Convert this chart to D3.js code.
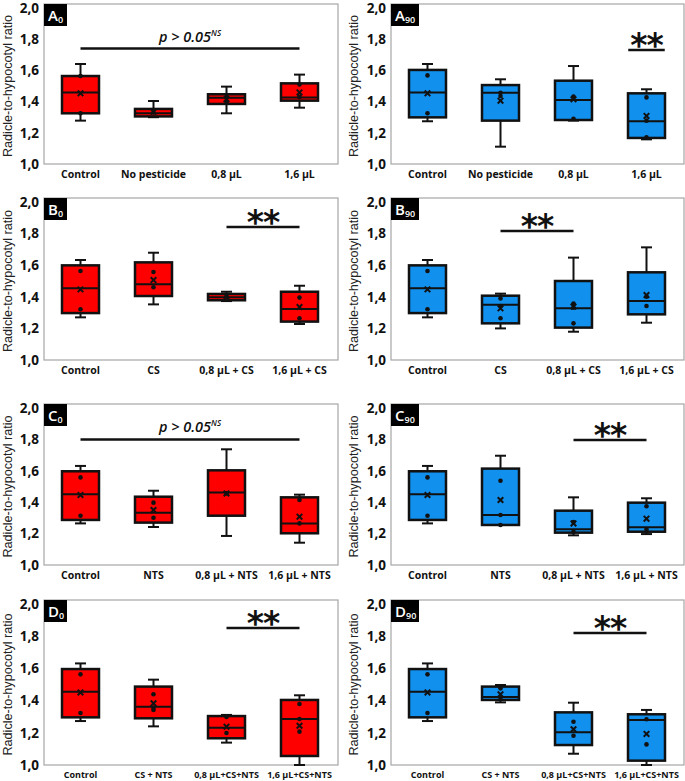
<!DOCTYPE html>
<html>
<head>
<meta charset="utf-8">
<script src="https://cdn.jsdelivr.net/npm/d3@7"></script>
<style>
  body { margin: 0; background: #fff; }
  svg { display: block; }
</style>
</head>
<body>
<div id="chart"></div>
<script>
// category labels per row
const catsA = ["Control", "No pesticide", "0,8 µL", "1,6 µL"];
const catsB = ["Control", "CS", "0,8 µL + CS", "1,6 µL + CS"];
const catsC = ["Control", "NTS", "0,8 µL + NTS", "1,6 µL + NTS"];
const catsD = ["Control", "CS + NTS", "0,8 µL+CS+NTS", "1,6 µL+CS+NTS"];
const yTicks = [1.0, 1.2, 1.4, 1.6, 1.8, 2.0];

// box stats: [min, q1, median, q3, max, mean]
const boxA0 = [[1.278, 1.325, 1.459, 1.564, 1.641, 1.453], [1.300, 1.305, 1.325, 1.353, 1.404, 1.335], [1.325, 1.385, 1.425, 1.447, 1.496, 1.415], [1.361, 1.406, 1.427, 1.517, 1.573, 1.459]];
const boxA90 = [[1.274, 1.299, 1.459, 1.603, 1.641, 1.453], [1.111, 1.278, 1.457, 1.506, 1.543, 1.406], [1.278, 1.282, 1.410, 1.534, 1.628, 1.415], [1.158, 1.167, 1.274, 1.453, 1.479, 1.308]];
const boxB0 = [[1.270, 1.297, 1.454, 1.599, 1.633, 1.447], [1.352, 1.405, 1.479, 1.618, 1.679, 1.506], [1.373, 1.378, 1.397, 1.418, 1.432, 1.405], [1.228, 1.243, 1.323, 1.432, 1.470, 1.335]];
const boxB90 = [[1.270, 1.297, 1.454, 1.599, 1.633, 1.447], [1.200, 1.232, 1.350, 1.407, 1.420, 1.327], [1.179, 1.205, 1.327, 1.500, 1.648, 1.338], [1.236, 1.289, 1.373, 1.555, 1.713, 1.411]];
const boxC0 = [[1.265, 1.287, 1.450, 1.597, 1.631, 1.446], [1.242, 1.270, 1.333, 1.435, 1.473, 1.350], [1.185, 1.314, 1.461, 1.603, 1.737, 1.456], [1.142, 1.202, 1.265, 1.431, 1.448, 1.308]];
const boxC90 = [[1.265, 1.287, 1.450, 1.597, 1.631, 1.446], [1.255, 1.255, 1.318, 1.614, 1.696, 1.414], [1.189, 1.206, 1.227, 1.346, 1.431, 1.265], [1.197, 1.212, 1.240, 1.397, 1.425, 1.295]];
const boxD0 = [[1.273, 1.296, 1.455, 1.596, 1.631, 1.451], [1.240, 1.290, 1.362, 1.487, 1.530, 1.383], [1.139, 1.166, 1.232, 1.304, 1.311, 1.238], [1.000, 1.056, 1.286, 1.404, 1.433, 1.244]];
const boxD90 = [[1.273, 1.296, 1.455, 1.596, 1.631, 1.451], [1.389, 1.404, 1.422, 1.487, 1.497, 1.439], [1.070, 1.124, 1.203, 1.327, 1.387, 1.222], [1.000, 1.027, 1.280, 1.315, 1.342, 1.193]];

// inner points shown as dots
const dotsA0 = [[1.564, 1.325], [1.33], [1.40, 1.43], [1.51, 1.43]];
const dotsA90 = [[1.568, 1.325], [1.457, 1.436], [1.432, 1.29], [1.427, 1.278, 1.171]];
const dotsB0 = [[1.563, 1.321], [1.557, 1.460], [1.40], [1.395, 1.264]];
const dotsB90 = [[1.563, 1.321], [1.390, 1.342, 1.264], [1.357, 1.331, 1.232], [1.401, 1.342]];
const dotsC0 = [[1.558, 1.314], [1.397, 1.301], [1.456], [1.414, 1.265]];
const dotsC90 = [[1.558, 1.314], [1.537, 1.318, 1.255], [1.274, 1.212], [1.374, 1.227]];
const dotsD0 = [[1.563, 1.323], [1.439, 1.356, 1.342], [1.298, 1.199], [1.379, 1.286, 1.207]];
const dotsD90 = [[1.563, 1.323], [1.476, 1.418], [1.269, 1.182], [1.284, 1.128]];

// significance marks: [kind, from index, to index, y value]
const sigA0 = ["ns", 0, 3, 1.74];
const sigA90 = ["**", 2.75, 3.25, 1.73];
const sigB0 = ["**", 2, 3, 1.842];
const sigB90 = ["**", 1, 2, 1.816];
const sigC0 = ["ns", 0, 3, 1.80];
const sigC90 = ["**", 2, 3, 1.796];
const sigD0 = ["**", 2, 3, 1.851];
const sigD90 = ["**", 2, 3, 1.820];

const W = 685, H = 781;
const RED = "#ff0000", BLUE = "#1190ee";
const cols = [{ left: 44, right: 338, title: 7 }, { left: 391, right: 684, title: 353 }];
const rows = [
  { bottom: 164, unit: 156, letter: "A", cats: catsA, fs: 10.5 },
  { bottom: 360, unit: 158, letter: "B", cats: catsB, fs: 10.5 },
  { bottom: 565, unit: 157, letter: "C", cats: catsC, fs: 10.5 },
  { bottom: 765, unit: 161, letter: "D", cats: catsD, fs: 9 }
];

const panels = [
  { r: 0, c: 0, sub: "0", box: boxA0, dots: dotsA0, sig: sigA0 },
  { r: 0, c: 1, sub: "90", box: boxA90, dots: dotsA90, sig: sigA90 },
  { r: 1, c: 0, sub: "0", box: boxB0, dots: dotsB0, sig: sigB0 },
  { r: 1, c: 1, sub: "90", box: boxB90, dots: dotsB90, sig: sigB90 },
  { r: 2, c: 0, sub: "0", box: boxC0, dots: dotsC0, sig: sigC0 },
  { r: 2, c: 1, sub: "90", box: boxC90, dots: dotsC90, sig: sigC90 },
  { r: 3, c: 0, sub: "0", box: boxD0, dots: dotsD0, sig: sigD0 },
  { r: 3, c: 1, sub: "90", box: boxD90, dots: dotsD90, sig: sigD90 }
];

const svg = d3.select("#chart").append("svg")
  .attr("width", W).attr("height", H)
  .style("font-family", "'Open Sans', 'Noto Sans', sans-serif");

panels.forEach(p => {
  const row = rows[p.r], col = cols[p.c];
  const fill = p.c === 0 ? RED : BLUE;
  const g = svg.append("g");

  const y = d3.scaleLinear().domain([1, 2]).range([row.bottom, row.bottom - row.unit]);
  const top = y(2) - 4;
  const x = d3.scaleBand().domain(row.cats).range([col.left, col.left + 292]);
  const xi = d3.scaleLinear().domain([-0.5, 3.5]).range([col.left, col.left + 292]);

  // frame
  g.append("rect")
    .attr("x", col.left).attr("y", top)
    .attr("width", col.right - col.left).attr("height", row.bottom - top)
    .attr("fill", "none").attr("stroke", "#a6a6a6").attr("stroke-width", 1.2);

  // y axis
  const yAxis = d3.axisLeft(y).tickValues(yTicks).tickSize(0).tickPadding(5)
    .tickFormat(d => d3.format(".1f")(d).replace(".", ","));
  const ya = g.append("g").attr("transform", `translate(${col.left},0)`).call(yAxis);
  ya.select(".domain").remove();
  ya.selectAll("text")
    .attr("font-family", "'Open Sans', sans-serif")
    .attr("font-size", 13.5).attr("font-weight", 700).attr("fill", "#111");

  // x axis labels
  const xAxis = d3.axisBottom(x).tickSize(0).tickPadding(7);
  const xa = g.append("g").attr("transform", `translate(0,${row.bottom})`).call(xAxis);
  xa.select(".domain").remove();
  xa.selectAll("text")
    .attr("font-family", "'Open Sans', sans-serif")
    .attr("font-size", row.fs).attr("font-weight", 700).attr("fill", "#111");

  // y title
  g.append("text")
    .attr("transform", `translate(${col.title},${(top + row.bottom) / 2 + 2}) rotate(-90)`)
    .attr("text-anchor", "middle").attr("dominant-baseline", "central")
    .attr("font-family", "'Liberation Sans Narrow', 'Liberation Sans', sans-serif")
    .attr("font-size", 13).attr("fill", "#222")
    .attr("textLength", 142).attr("lengthAdjust", "spacingAndGlyphs")
    .text("Radicle-to-hypocotyl ratio");

  // boxes
  const bw = 37, cap = 11;
  p.box.forEach((b, i) => {
    const cx = x(row.cats[i]) + x.bandwidth() / 2;
    const [mn, q1, md, q3, mx, mean] = b;
    const bg = g.append("g").attr("stroke", "#111");
    bg.append("line").attr("x1", cx).attr("x2", cx).attr("y1", y(q3)).attr("y2", y(mx)).attr("stroke-width", 2);
    bg.append("line").attr("x1", cx).attr("x2", cx).attr("y1", y(q1)).attr("y2", y(mn)).attr("stroke-width", 2);
    bg.append("line").attr("x1", cx - cap / 2).attr("x2", cx + cap / 2).attr("y1", y(mx)).attr("y2", y(mx)).attr("stroke-width", 2);
    bg.append("line").attr("x1", cx - cap / 2).attr("x2", cx + cap / 2).attr("y1", y(mn)).attr("y2", y(mn)).attr("stroke-width", 2);
    bg.append("rect")
      .attr("x", cx - bw / 2).attr("y", y(q3))
      .attr("width", bw).attr("height", y(q1) - y(q3))
      .attr("fill", fill).attr("stroke-width", 2.5);
    bg.append("line").attr("x1", cx - bw / 2).attr("x2", cx + bw / 2).attr("y1", y(md)).attr("y2", y(md)).attr("stroke-width", 2);

    g.selectAll(null).data(p.dots[i]).join("circle")
      .attr("cx", cx).attr("cy", d => y(d)).attr("r", 2.3).attr("fill", "#111");

    g.append("path")
      .attr("d", d3.symbol(d3.symbolTimes, 22)())
      .attr("transform", `translate(${cx},${y(mean)})`)
      .attr("fill", "none").attr("stroke", "#111").attr("stroke-width", 2);
  });

  // significance
  const [kind, i0, i1, sv] = p.sig;
  const x0 = xi(i0), x1 = xi(i1), ly = y(sv);
  g.append("line").attr("x1", x0).attr("x2", x1).attr("y1", ly).attr("y2", ly)
    .attr("stroke", "#111").attr("stroke-width", 2.5);
  if (kind === "ns") {
    const t = g.append("text")
      .attr("x", (x0 + x1) / 2).attr("y", ly - 7)
      .attr("text-anchor", "middle")
      .attr("font-family", "'Open Sans', sans-serif")
      .attr("font-style", "italic").attr("font-size", 14.5).attr("font-weight", 600).attr("fill", "#111");
    t.append("tspan").text("p > 0.05");
    t.append("tspan").attr("font-size", 8).attr("dy", -6).text("NS");
  } else {
    g.append("text")
      .attr("x", (x0 + x1) / 2).attr("y", ly + 7)
      .attr("text-anchor", "middle")
      .attr("font-family", "'DejaVu Sans', sans-serif")
      .attr("font-size", 33).attr("font-weight", 700).attr("fill", "#111")
      .attr("letter-spacing", -1)
      .text("**");
  }

  // panel tag
  const tw = p.sub === "0" ? 23 : 28;
  g.append("rect").attr("x", col.left).attr("y", top).attr("width", tw).attr("height", 22).attr("fill", "#000");
  const tag = g.append("text")
    .attr("x", col.left + 4).attr("y", top + 17)
    .attr("font-family", "'Open Sans', sans-serif")
    .attr("font-size", 15).attr("font-weight", 600).attr("fill", "#fff");
  tag.append("tspan").text(row.letter);
  tag.append("tspan").attr("font-size", 9).attr("dy", 2).text(p.sub);
});
</script>
</body>
</html>
